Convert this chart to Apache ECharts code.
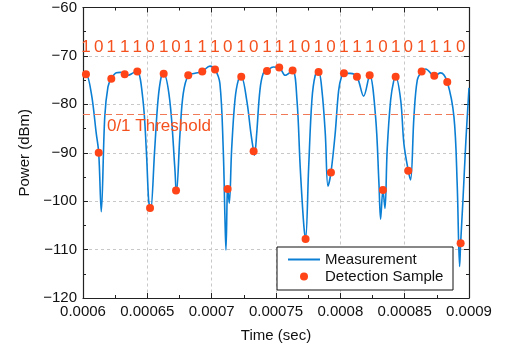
<!DOCTYPE html>
<html>
<head>
<meta charset="utf-8">
<style>
  html, body { margin: 0; padding: 0; background: #fff; }
  #chart { width: 505px; height: 349px; }
</style>
<script src="https://cdn.jsdelivr.net/npm/echarts@6/dist/echarts.min.js"></script>
</head>
<body>
<div id="chart"></div>
<script>
// Measured received power trace (time in microseconds, power in dBm)
const measTimeUs = [
  600.0, 602.3, 606.5, 610.3, 612.2, 614.2, 616.9, 619.4, 622.0, 625.9,
  629.3, 632.4, 635.2, 638.9, 642.2, 646.6, 649.2, 651.0, 652.1, 652.6,
  655.7, 658.3, 660.8, 662.7, 667.4, 671.3, 672.3, 672.6, 675.4, 677.9,
  681.8, 687.0, 692.7, 698.7, 702.6, 706.4, 709.0, 710.3, 711.1, 712.1,
  712.4, 713.7, 715.5, 718.1, 720.7, 723.0, 727.2, 730.5, 732.6, 733.3,
  735.0, 737.5, 740.1, 743.0, 747.9, 752.5, 757.2, 762.9, 766.3, 768.8,
  771.5, 773.0, 775.4, 777.9, 780.5, 783.1, 785.7, 788.3, 790.4, 792.7,
  796.0, 798.7, 801.2, 802.8, 807.7, 812.9, 818.1, 822.8, 827.4, 830.0,
  831.3, 833.1, 834.7, 836.4, 839.1, 841.6, 843.0, 846.9, 849.4, 852.8,
  854.6, 857.2, 859.8, 863.2, 866.3, 873.0, 877.9, 883.1, 888.3, 890.8,
  892.7, 893.5, 895.3, 897.6, 900.0
];
const measPower = [
  -73.8, -73.8, -77.8, -86.0, -90.0, -102.2, -82.6, -76.4, -74.7, -73.5,
  -73.4, -73.8, -74.0, -73.5, -73.2, -79.1, -89.4, -99.8, -101.4, -102.0,
  -89.4, -79.1, -74.3, -73.7, -79.1, -92.9, -97.8, -98.3, -86.0, -77.8,
  -74.0, -73.6, -73.2, -72.1, -72.8, -75.7, -89.4, -103.2, -110.1, -98.4,
  -97.5, -100.4, -89.4, -79.1, -75.0, -74.3, -79.1, -86.0, -89.7, -90.5,
  -86.0, -77.1, -73.6, -73.1, -72.3, -72.4, -74.0, -73.0, -79.1, -92.9,
  -104.6, -107.8, -92.9, -79.1, -74.0, -73.3, -77.1, -86.0, -96.9, -94.1,
  -86.0, -77.1, -74.0, -73.6, -73.6, -74.3, -78.3, -74.0, -82.6, -96.3,
  -103.7, -97.7, -101.5, -89.4, -79.1, -75.0, -74.3, -79.1, -88.1, -93.7,
  -95.6, -82.6, -75.0, -73.2, -72.7, -74.1, -73.5, -75.4, -82.6, -96.3,
  -113.5, -108.7, -99.8, -87.4, -76.6
];

// Detection samples (one per bit slot)
const sampleTimeUs = [
  602.3, 612.2, 622.0, 632.4, 642.2, 652.1, 662.7, 672.3, 681.8, 692.7,
  702.6, 712.4, 723.0, 732.6, 743.0, 752.5, 762.9, 773.0, 783.1, 792.7,
  802.8, 812.9, 822.8, 833.1, 843.0, 852.8, 863.2, 873.0, 883.1, 893.5
];
const samplePower = [
  -73.8, -90.0, -74.7, -73.8, -73.2, -101.4, -73.7, -97.8, -74.0, -73.2,
  -72.8, -97.5, -74.3, -89.7, -73.1, -72.4, -73.0, -107.8, -73.3, -94.1,
  -73.6, -74.3, -74.0, -97.7, -74.3, -93.7, -73.2, -74.1, -75.4, -108.7
];
const decodedBits = [
  1, 0, 1, 1, 1, 0, 1, 0, 1, 1, 1, 0, 1, 0, 1, 1, 1, 0, 1, 0,
  1, 1, 1, 0, 1, 0, 1, 1, 1, 0
];
const thresholdDbm = -82;

// Axis ranges and ticks
const timeRange = [0.0006, 0.0009];
const timeStep = 0.00005;
const powerRange = [-120, -60];
const powerStep = 10;

const US = 1e-6;
const BIT_ROW_Y = -68.2;
const THRESHOLD_LABEL_POS = [618.6 * US, -84.6];

const ORANGE = '#ff4518';
const TEXT_ORANGE = '#f4511e';
const BLUE = '#0b7fd4';
const FONT = 'Liberation Sans, Arial, sans-serif';

const measData = measTimeUs.map((t, i) => [t * US, measPower[i]]);
const sampleData = sampleTimeUs.map((t, i) => [t * US, samplePower[i]]);
const bitData = sampleTimeUs.map((t, i) => [t * US, BIT_ROW_Y, decodedBits[i]]);

const fmtTime = v => String(parseFloat(v.toPrecision(6)));
const fmtPower = v => (v < 0 ? '\u2212' + Math.abs(v) : String(v));

function frameAxis(extra) {
  return Object.assign({
    type: 'value',
    axisLine: { show: true, onZero: false, lineStyle: { color: '#222', width: 1.2 } },
    axisTick: { show: true, inside: true, length: 5, lineStyle: { color: '#222', width: 1 } },
    minorTick: { show: true, splitNumber: 2, length: 3, lineStyle: { color: '#222', width: 1 } },
    axisLabel: { show: false },
    splitLine: { show: false },
    minorSplitLine: { show: false }
  }, extra);
}

const chart = echarts.init(document.getElementById('chart'), null, { renderer: 'canvas' });

chart.setOption({
  animation: false,
  backgroundColor: '#fff',
  textStyle: { fontFamily: FONT },
  grid: { left: 83, top: 7, width: 386, height: 291 },
  graphic: {
    elements: [{
      type: 'rect',
      z: 8,
      silent: true,
      shape: { x: 277, y: 247, width: 176, height: 43 },
      style: { fill: '#fff', stroke: '#111', lineWidth: 1 }
    }]
  },
  legend: {
    left: 277,
    top: 248,
    z: 10,
    orient: 'vertical',
    padding: [4, 6, 4, 10],
    itemGap: 2,
    itemWidth: 32,
    itemHeight: 8,
    textStyle: { fontSize: 15, color: '#111', fontFamily: FONT },
    data: [
      { name: 'Measurement', itemStyle: { opacity: 0 } },
      { name: 'Detection Sample', icon: 'circle' }
    ]
  },
  xAxis: [
    frameAxis({
      position: 'bottom',
      min: timeRange[0], max: timeRange[1], interval: timeStep,
      name: 'Time (sec)', nameLocation: 'middle', nameGap: 30,
      nameTextStyle: { fontSize: 15, color: '#111', fontFamily: FONT },
      axisLabel: { show: true, formatter: fmtTime, fontSize: 15, color: '#111', margin: 6, fontFamily: FONT },
      splitLine: { show: true, lineStyle: { color: '#c8c8c8', type: [3, 3], width: 1 } }
    }),
    frameAxis({ position: 'top', min: timeRange[0], max: timeRange[1], interval: timeStep })
  ],
  yAxis: [
    frameAxis({
      position: 'left',
      min: powerRange[0], max: powerRange[1], interval: powerStep,
      name: 'Power (dBm)', nameLocation: 'middle', nameGap: 50,
      nameTextStyle: { fontSize: 15, color: '#111', fontFamily: FONT },
      axisLabel: { show: true, formatter: fmtPower, fontSize: 15, color: '#111', margin: 6, fontFamily: FONT },
      splitLine: { show: true, lineStyle: { color: '#c8c8c8', type: [3, 3], width: 1 } }
    }),
    frameAxis({ position: 'right', min: powerRange[0], max: powerRange[1], interval: powerStep })
  ],
  series: [
    {
      name: 'Measurement',
      type: 'line',
      data: measData,
      smooth: 0.35,
      showSymbol: false,
      symbol: 'none',
      lineStyle: { color: BLUE, width: 1.6 },
      itemStyle: { color: BLUE },
      z: 3,
      markLine: {
        silent: true,
        symbol: 'none',
        label: { show: false },
        lineStyle: { color: '#f07a58', type: [7, 4], width: 1.2 },
        data: [{ yAxis: thresholdDbm }]
      }
    },
    {
      name: 'Detection Sample',
      type: 'scatter',
      data: sampleData,
      symbol: 'circle',
      symbolSize: 8,
      itemStyle: { color: ORANGE, opacity: 1 },
      z: 5
    },
    {
      name: 'bits',
      type: 'scatter',
      data: bitData,
      symbolSize: 0,
      silent: true,
      itemStyle: { opacity: 1 },
      label: {
        show: true,
        position: 'inside',
        formatter: p => String(p.value[2]),
        fontSize: 17,
        color: TEXT_ORANGE,
        opacity: 1,
        fontFamily: FONT
      },
      z: 6
    },
    {
      name: 'threshold label',
      type: 'scatter',
      data: [THRESHOLD_LABEL_POS],
      symbolSize: 0,
      silent: true,
      itemStyle: { opacity: 1 },
      label: {
        show: true,
        position: 'right',
        distance: 0,
        formatter: '0/1 Threshold',
        fontSize: 17,
        color: TEXT_ORANGE,
        opacity: 1,
        fontFamily: FONT
      },
      z: 6
    }
  ]
});
</script>
</body>
</html>
